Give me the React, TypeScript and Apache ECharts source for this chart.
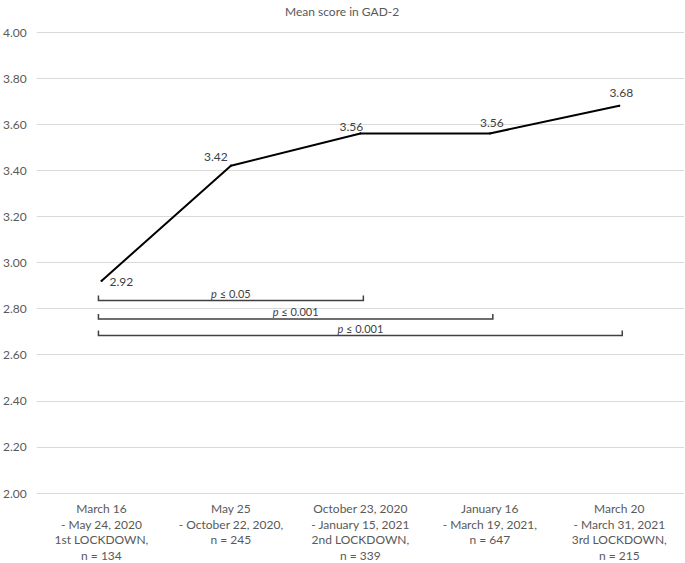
import React, { useEffect, useRef } from "react";
import * as echarts from "echarts";

const title = "Mean score in GAD-2";
const categories = [
  "March 16\n- May 24, 2020\n1st LOCKDOWN,\nn = 134",
  "May 25\n- October 22, 2020,\nn = 245",
  "October 23, 2020\n- January 15, 2021\n2nd LOCKDOWN,\nn = 339",
  "January 16\n- March 19, 2021,\nn = 647",
  "March 20\n- March 31, 2021\n3rd LOCKDOWN,\nn = 215",
];
const values = [2.92, 3.42, 3.56, 3.56, 3.68];
const yTicks = { min: 2.0, max: 4.0, interval: 0.2 };
// bracket: [fromIndex, toIndex, yLevel, pLabel]
const bracketFrom = [0, 0, 0];
const bracketTo = [2, 3, 4];
const bracketLevel = [2.835, 2.755, 2.683];
const bracketLabels = ["0.05", "0.001", "0.001"];

const FONT = "Lato, 'Open Sans', sans-serif";

export default function App() {
  const ref = useRef<HTMLDivElement>(null);
  useEffect(() => {
    if (!ref.current) return;
    const chart = echarts.init(ref.current, undefined, { renderer: "svg" });
    const labelCfg = [
      { position: "right", distance: 7, offset: [0, 1] },
      { position: "top", distance: 2, offset: [-15, 0] },
      { position: "top", distance: 0, offset: [-9, 0] },
      { position: "top", distance: 4, offset: [2, 0] },
      { position: "top", distance: 6, offset: [2, 0] },
    ];
    const lineData = values.map((v, i) => ({
      value: v,
      label: { show: true, ...labelCfg[i] },
    }));
    const bracketData = bracketFrom.map((f, i) => [f, bracketTo[i], bracketLevel[i], i]);
    chart.setOption({
      animation: false,
      textStyle: { fontFamily: FONT },
      title: {
        text: title,
        left: 280,
        top: 0,
        textStyle: { fontFamily: FONT, fontSize: 12, fontWeight: "normal", color: "#595959" },
      },
      grid: { left: 35, right: 1, top: 32, bottom: 67, containLabel: false },
      xAxis: {
        type: "category",
        data: categories,
        boundaryGap: true,
        axisLine: { show: false },
        axisTick: { show: false },
        axisLabel: {
          color: "#595959",
          fontFamily: FONT,
          fontSize: 12,
          lineHeight: 15.5,
          margin: 8,
          interval: 0,
        },
      },
      yAxis: {
        type: "value",
        min: yTicks.min,
        max: yTicks.max,
        interval: yTicks.interval,
        axisLine: { show: false },
        axisTick: { show: false },
        splitLine: { lineStyle: { color: "#d9d9d9", width: 1 } },
        axisLabel: {
          color: "#595959",
          fontFamily: FONT,
          fontSize: 12,
          margin: 10,
          formatter: (v: number) => v.toFixed(2),
        },
      },
      series: [
        {
          type: "line",
          data: lineData,
          symbol: "circle",
          symbolSize: 2,
          showSymbol: true,
          itemStyle: { color: "#000000", borderWidth: 0 },
          lineStyle: { color: "#000000", width: 2 },
          label: {
            show: true,
            color: "#404040",
            fontFamily: FONT,
            fontSize: 12,
            formatter: (p: any) => Number(p.value).toFixed(2),
          },
          z: 3,
        },
        {
          type: "custom",
          data: bracketData,
          z: 2,
          renderItem: (params: any, api: any) => {
            const from = api.value(0);
            const to = api.value(1);
            const lvl = api.value(2);
            const idx = api.value(3);
            const a = api.coord([from, lvl]);
            const b = api.coord([to, lvl]);
            const tick = 5;
            return {
              type: "group",
              children: [
                {
                  type: "polyline",
                  shape: {
                    points: [
                      [a[0] - 3, a[1] - tick],
                      [a[0] - 3, a[1]],
                      [b[0] + 3, b[1]],
                      [b[0] + 3, b[1] - tick],
                    ],
                  },
                  style: { stroke: "#404040", lineWidth: 1.5, fill: null },
                },
                {
                  type: "text",
                  x: (a[0] + b[0]) / 2,
                  y: a[1] - 2,
                  style: {
                    text: "{i|p} ≤ " + bracketLabels[idx],
                    textAlign: "center",
                    textVerticalAlign: "bottom",
                    fill: "#404040",
                    fontFamily: FONT,
                    fontSize: 11,
                    rich: {
                      i: { fontStyle: "italic", fontFamily: FONT, fontSize: 11, fill: "#404040" },
                    },
                  },
                },
              ],
            };
          },
        },
      ],
    });
    return () => chart.dispose();
  }, []);
  return <div ref={ref} style={{ width: 685, height: 563, position: "absolute", left: 0, top: 0 }} />;
}
